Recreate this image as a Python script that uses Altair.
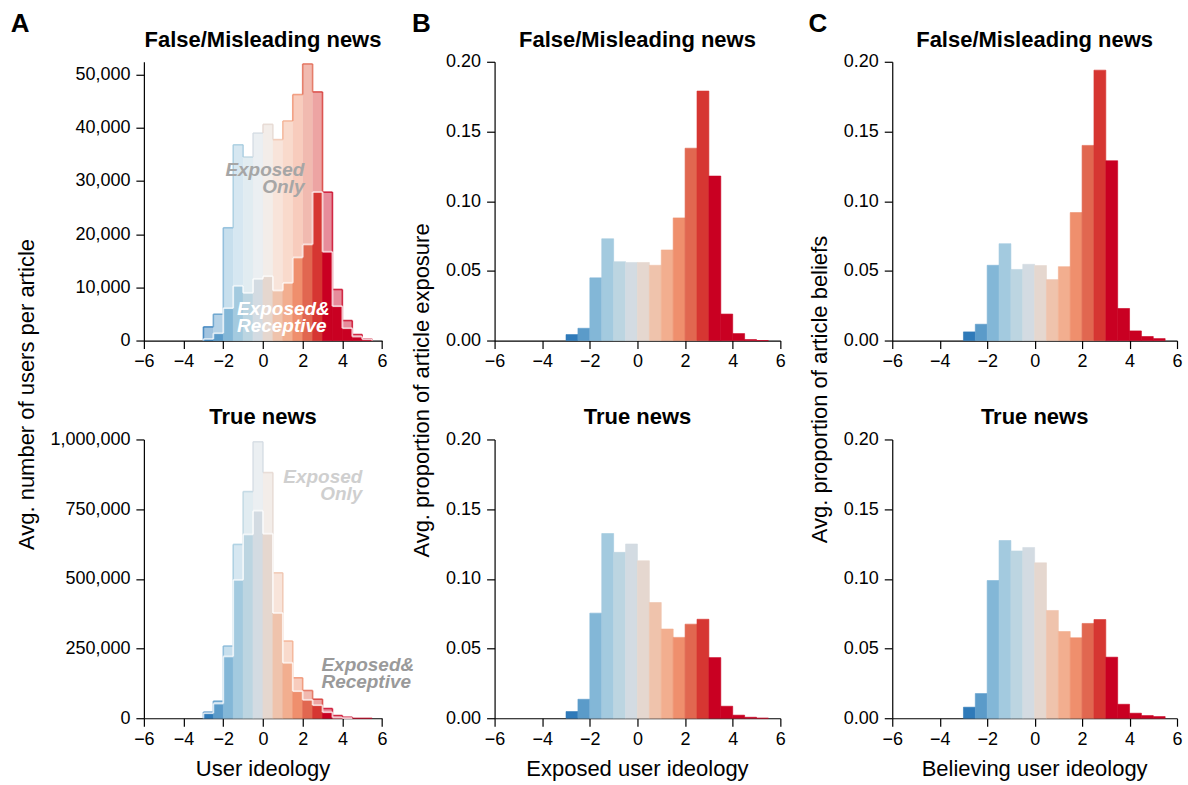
import altair as alt
import pandas as pd

# ---------------- data ----------------
bin_starts = [-3.0, -2.5, -2.0, -1.5, -1.0, -0.5, 0.0, 0.5, 1.0, 1.5, 2.0, 2.5, 3.0, 3.5, 4.0, 4.5, 5.0]
BIN_W = 0.5
bin_colors = ["#2f7ab9", "#5b9bc9", "#83b7d7", "#a3cadf", "#bcd5e1", "#d3dbe2", "#e5d7cf",
              "#efc3ac", "#f2ae8f", "#ef8f6d", "#e16750", "#d63632", "#c90022", "#c90022",
              "#c90022", "#c90022", "#c90022"]

# Panel A (avg. number of users per article)
a_false_exposed_only = [2570, 4950, 21200, 36800, 34500, 39000, 40650, 37770, 41280, 46240,
                        52000, 46740, 27900, 9600, 3760, 1130, 300]
a_false_receptive = [300, 1380, 6090, 10290, 8970, 11600, 12100, 9410, 10850, 15620,
                     18070, 27920, 16690, 6460, 2320, 750, 250]
a_true_exposed_only = [21600, 61150, 259000, 623500, 813000, 991600, 881300, 521600, 277000,
                       145100, 99500, 68300, 34800, 9600, 3600, 0, 0]
a_true_receptive = [18000, 52800, 221800, 496400, 659500, 744600, 661900, 377700, 199000,
                    97100, 66000, 46800, 21600, 2500, 500, 0, 0]

# Panel B (avg. proportion of article exposure)
b_false = [0.0043, 0.0088, 0.045, 0.073, 0.0566, 0.056, 0.056, 0.054, 0.065, 0.088,
           0.138, 0.179, 0.118, 0.019, 0.005, 0.0007, 0.0]
b_true = [0.0048, 0.0136, 0.0754, 0.1325, 0.119, 0.125, 0.113, 0.083, 0.064, 0.058,
          0.0675, 0.071, 0.0435, 0.0086, 0.0022, 0.0007, 0.0]

# Panel C (avg. proportion of article beliefs)
c_false = [0.0062, 0.0117, 0.054, 0.0695, 0.051, 0.0547, 0.0538, 0.0437, 0.053, 0.0918,
           0.140, 0.194, 0.129, 0.023, 0.0069, 0.0029, 0.0014]
c_true = [0.0079, 0.0177, 0.0988, 0.1275, 0.120, 0.1225, 0.1115, 0.0773, 0.0622, 0.0577,
          0.068, 0.0708, 0.0438, 0.010, 0.0036, 0.0019, 0.0012]

x_ticks = [-6, -4, -2, 0, 2, 4, 6]
a_false_ticks = [0, 10000, 20000, 30000, 40000, 50000]
a_true_ticks = [0, 250000, 500000, 750000, 1000000]
prop_ticks = [0.0, 0.05, 0.10, 0.15, 0.20]

FONT = "Liberation Sans"
W_A, W_B, W_C = 238.4, 286, 285
H = 279
ONE = pd.DataFrame({"k": [0]})


# ---------------- helpers ----------------
def bar_table(values):
    return pd.DataFrame({"x0": bin_starts,
                         "x1": [s + BIN_W for s in bin_starts],
                         "v": values,
                         "c": bin_colors})


def outline_tables(values, color=None):
    h_rows, v_rows = [], []
    n = len(values)
    for i in range(n):
        if values[i] > 0:
            h_rows.append({"x0": bin_starts[i], "x1": bin_starts[i] + BIN_W, "v": values[i],
                           "c": color or bin_colors[i]})
    for i in range(n + 1):
        left = values[i - 1] if i > 0 else 0
        right = values[i] if i < n else 0
        if left == right:
            continue
        taller = i - 1 if left > right else i
        xb = bin_starts[i] if i < n else bin_starts[-1] + BIN_W
        v_rows.append({"x0": xb, "lo": min(left, right), "hi": max(left, right),
                       "c": color or bin_colors[taller]})
    return pd.DataFrame(h_rows), pd.DataFrame(v_rows)


XA = alt.Axis(values=x_ticks, title=None)


def y_axis(ticks, fmt):
    return alt.Axis(values=ticks, format=fmt, title=None)


def enc_x(field):
    return alt.X(f"{field}:Q", scale=alt.Scale(domain=[-6, 6], nice=False, zero=False), axis=XA)


def enc_y(field, dom, axis):
    return alt.Y(f"{field}:Q", scale=alt.Scale(domain=[0, dom], nice=False), axis=axis)


def label(text, x, y, size=22, weight="normal", align="center", angle=0, color="black",
          baseline="alphabetic"):
    return alt.Chart(ONE).mark_text(
        text=text, align=align, baseline=baseline, font=FONT, fontSize=size,
        fontWeight=weight, color=color, angle=angle
    ).encode(x=alt.value(x), y=alt.value(y))


def note(text_lines, x, y, color, align):
    return alt.Chart(ONE).mark_text(
        text=text_lines, align=align, baseline="alphabetic", font=FONT, fontSize=19,
        fontStyle="italic", fontWeight="bold", color=color, lineHeight=17
    ).encode(x=alt.value(x), y=alt.value(y))


def decorations(w, ptitle, xtitle=None, ytitle=None, ytx=0, yty=0, letter=None, lx=0):
    out = [label(ptitle, w / 2, -15, size=22, weight="bold")]
    if xtitle:
        out.append(label(xtitle, w / 2, H + 58))
    if ytitle:
        out.append(label(ytitle, ytx, yty, angle=270, baseline="middle"))
    if letter:
        out.append(label(letter, lx, -29.5, size=26, weight="bold", align="left"))
    return out


def a_panel(outer, inner, dom, ticks, notes, deco):
    ya = y_axis(ticks, ",d")
    ho, vo = outline_tables(outer)
    hi, vi = outline_tables(inner, "white")
    col = alt.Color("c:N", scale=None)
    outer_bars = alt.Chart(bar_table(outer)).mark_bar(fillOpacity=0.45, strokeWidth=0).encode(
        x=enc_x("x0"), x2="x1:Q", y=enc_y("v", dom, ya), y2=alt.datum(0), color=col)
    inner_bars = alt.Chart(bar_table(inner)).mark_bar(strokeWidth=0.6).encode(
        x=enc_x("x0"), x2="x1:Q", y=enc_y("v", dom, ya), y2=alt.datum(0), color=col,
        stroke=alt.Stroke("c:N", scale=None))
    o_h = alt.Chart(ho).mark_rule(strokeWidth=1.6, opacity=0.8).encode(
        x=enc_x("x0"), x2="x1:Q", y=enc_y("v", dom, ya), color=col)
    o_v = alt.Chart(vo).mark_rule(strokeWidth=1.6, opacity=0.8).encode(
        x=enc_x("x0"), y=enc_y("lo", dom, ya), y2="hi:Q", color=col)
    i_h = alt.Chart(hi).mark_rule(strokeWidth=1.8, opacity=0.75).encode(
        x=enc_x("x0"), x2="x1:Q", y=enc_y("v", dom, ya), color=col)
    i_v = alt.Chart(vi).mark_rule(strokeWidth=1.8, opacity=0.75).encode(
        x=enc_x("x0"), y=enc_y("lo", dom, ya), y2="hi:Q", color=col)
    layers = [outer_bars, inner_bars, o_h, o_v, i_h, i_v] + notes + deco
    return alt.layer(*layers).properties(width=W_A, height=H)


def p_panel(values, w, deco):
    ya = y_axis(prop_ticks, ".2f")
    col = alt.Color("c:N", scale=None)
    bars = alt.Chart(bar_table(values)).mark_bar(strokeWidth=0.6).encode(
        x=enc_x("x0"), x2="x1:Q", y=enc_y("v", 0.2, ya), y2=alt.datum(0), color=col,
        stroke=alt.Stroke("c:N", scale=None))
    return alt.layer(bars, *deco).properties(width=w, height=H)


# ---------------- panels ----------------
a_top = a_panel(a_false_exposed_only, a_false_receptive, 52400, a_false_ticks,
                [note(["Exposed", "Only"], 160.7, 114.7, "#a6a6a6", "right"),
                 note(["Exposed&", "Receptive"], 93.2, 253, "white", "left")],
                decorations(W_A, "False/Misleading news", None,
                            "Avg. number of users per article", -117, 333, "A", -133.3))
a_bot = a_panel(a_true_exposed_only, a_true_receptive, 1000000, a_true_ticks,
                [note(["Exposed", "Only"], 218.7, 44, "#cfcfcf", "right"),
                 note(["Exposed&", "Receptive"], 177.7, 231.7, "#9a9a9a", "left")],
                decorations(W_A, "True news", "User ideology"))

b_top = p_panel(b_false, W_B,
                decorations(W_B, "False/Misleading news", None,
                            "Avg. proportion of article exposure", -72.5, 329, "B", -82.7))
b_bot = p_panel(b_true, W_B, decorations(W_B, "True news", "Exposed user ideology"))

c_top = p_panel(c_false, W_C,
                decorations(W_C, "False/Misleading news", None,
                            "Avg. proportion of article beliefs", -72.7, 328, "C", -83.7))
c_bot = p_panel(c_true, W_C, decorations(W_C, "True news", "Believing user ideology"))

chart = alt.concat(a_top, b_top, c_top, a_bot, b_bot, c_bot, columns=3,
                   spacing={"row": 99, "column": 112}, bounds="flush").properties(
    padding={"left": 10, "top": 10.5, "right": 5, "bottom": 5}
).configure_view(stroke=None).configure_axis(
    grid=False, domainColor="black", domainWidth=1.2, tickColor="black", tickWidth=1.2,
    tickSize=8, labelFont=FONT, labelFontSize=18, labelColor="black", labelPadding=4,
    labelFlush=False, labelOverlap=False
).configure_axisY(labelPadding=6).configure_text(font=FONT)

chart.save("out.html", embed_options={"renderer": "svg", "actions": False})
